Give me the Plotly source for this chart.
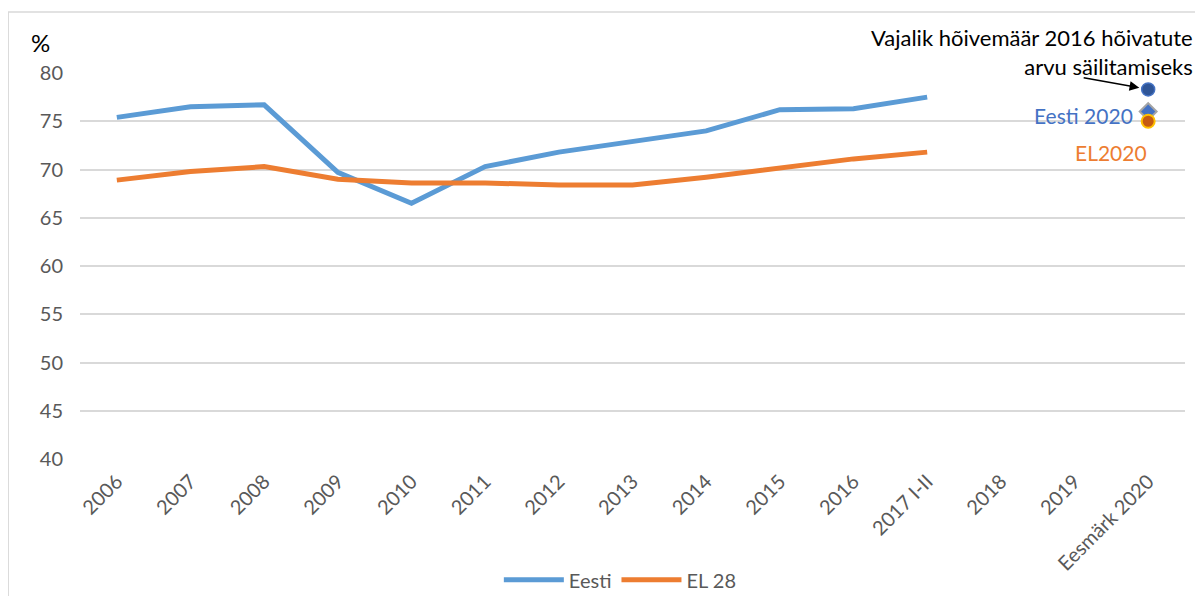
import plotly.graph_objects as go

categories = ["2006", "2007", "2008", "2009", "2010", "2011", "2012", "2013",
              "2014", "2015", "2016", "2017 I-II", "2018", "2019", "Eesmärk 2020"]
eesti = [75.4, 76.5, 76.7, 69.7, 66.5, 70.3, 71.8, 72.9, 74.0, 76.2, 76.3, 77.5]
el28 = [68.9, 69.8, 70.3, 69.0, 68.6, 68.6, 68.4, 68.4, 69.2, 70.1, 71.1, 71.8]
target_cat = "Eesmärk 2020"
needed_2016 = 78.3
eesti_2020 = 76.0
el_2020 = 75.0

FONT = "Lato"
GREY = "#595959"

fig = go.Figure()
fig.add_trace(go.Scatter(x=categories[:len(eesti)], y=eesti, mode="lines", name="Eesti",
                         line=dict(color="#5B9BD5", width=5)))
fig.add_trace(go.Scatter(x=categories[:len(el28)], y=el28, mode="lines", name="EL 28",
                         line=dict(color="#ED7D31", width=5)))
fig.add_trace(go.Scatter(x=[target_cat], y=[needed_2016], mode="markers", showlegend=False,
                         marker=dict(symbol="circle", size=13, color="#2F5597",
                                     line=dict(color="#4472C4", width=1.5))))
fig.add_trace(go.Scatter(x=[target_cat], y=[eesti_2020], mode="markers", showlegend=False,
                         marker=dict(symbol="diamond", size=13, color="#4472C4",
                                     line=dict(color="#A5A5A5", width=2))))
fig.add_trace(go.Scatter(x=[target_cat], y=[el_2020], mode="markers", showlegend=False,
                         marker=dict(symbol="circle", size=13, color="#C55A11",
                                     line=dict(color="#FFC000", width=2))))

fig.add_annotation(x=1.009, xref="paper", xanchor="right", y=79.1, yref="y",
                   yanchor="bottom", text="Vajalik hõivemäär 2016 hõivatute<br>arvu säilitamiseks",
                   showarrow=False, align="right", font=dict(family=FONT, size=22, color="black"))
fig.add_annotation(x=target_cat, y=needed_2016, xref="x", yref="y",
                   ax=-66, ay=-12, showarrow=True, arrowhead=2, arrowsize=1.3,
                   arrowwidth=1.5, arrowcolor="black", standoff=9, text="")
fig.add_annotation(x=target_cat, y=75.55, xref="x", yref="y", xanchor="right",
                   xshift=-13, text="Eesti 2020", showarrow=False,
                   font=dict(family=FONT, size=21, color="#4472C4"))
fig.add_annotation(x=target_cat, y=71.8, xref="x", yref="y", xanchor="right",
                   xshift=1, text="EL2020", showarrow=False,
                   font=dict(family=FONT, size=21, color="#ED7D31"))
fig.add_annotation(x=-0.036, xref="paper", y=1.078, yref="paper", yanchor="middle",
                   xanchor="center", text="%", showarrow=False,
                   font=dict(family=FONT, size=24, color="black"))

fig.add_shape(type="rect", xref="paper", yref="paper", x0=-0.065, x1=1.05, y0=-0.4, y1=1.158,
              line=dict(color="#D9D9D9", width=1.5), fillcolor="rgba(0,0,0,0)", layer="below")

fig.update_layout(
    width=1203, height=596,
    margin=dict(l=72, r=26, t=65, b=145, autoexpand=False),
    plot_bgcolor="white", paper_bgcolor="white",
    font=dict(family=FONT, color=GREY, size=19),
    legend=dict(orientation="h", x=0.489, xanchor="center", y=-0.313, yanchor="middle",
                font=dict(family=FONT, size=20, color=GREY), itemwidth=60, traceorder="normal"),
    xaxis=dict(type="category", categoryorder="array", categoryarray=categories,
               range=[-0.5, len(categories) - 0.5], tickangle=-45, showgrid=False,
               showline=False, ticks="", automargin=False, ticklabelstandoff=6,
               tickfont=dict(family=FONT, size=20, color=GREY)),
    yaxis=dict(range=[40, 80], dtick=5, showgrid=True, gridcolor="#D9D9D9", gridwidth=1.5,
               zeroline=False, showline=False, ticks="", ticklabelstandoff=16, automargin=False,
               tickfont=dict(family=FONT, size=20, color=GREY)),
)

fig.write_html("out.html")
